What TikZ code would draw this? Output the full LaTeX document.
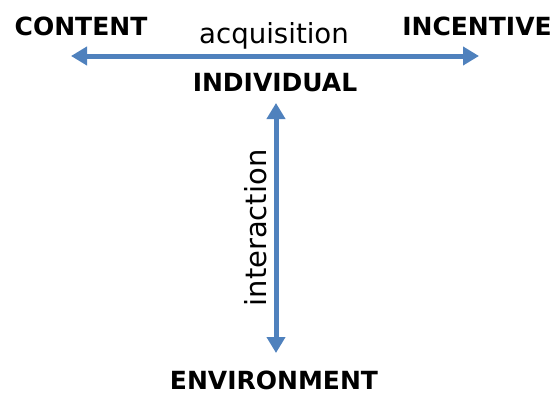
\documentclass[tikz,border=0pt]{standalone}
\usepackage{fontspec}
\setmainfont{DejaVu Sans}
\usetikzlibrary{arrows.meta}
\definecolor{axisblue}{RGB}{79,129,189}

\begin{document}
\begin{tikzpicture}[x=1pt, y=-1pt,
        pole/.style={inner sep=0pt, font=\fontsize{25}{30}\selectfont\bfseries},
        relation/.style={inner sep=0pt, font=\fontsize{27.6}{33}\selectfont},
        axis/.style={axisblue, line width=5pt, {Triangle[length=16pt,width=18pt]}-{Triangle[length=16pt,width=18pt]}}]
    \useasboundingbox (0, 0) rectangle (560, 394);

    \node[pole] (content)     at (81, 26)   {CONTENT};
    \node[pole] (incentive)   at (477, 26)  {INCENTIVE};
    \node[pole] (individual)  at (275, 83)  {INDIVIDUAL};
    \node[pole] (environment) at (274, 380) {ENVIRONMENT};

    \coordinate (left)   at (71, 56);
    \coordinate (right)  at (479, 56);
    \coordinate (top)    at (276, 103);
    \coordinate (bottom) at (276, 353);

    \draw[axis] (left) -- (right);
    \draw[axis] (top) -- (bottom);

    \node[relation, anchor=base] (acquisition) at (274, 43) {acquisition};
    \node[relation, font=\fontsize{29}{34}\selectfont, rotate=90, anchor=base] (interaction) at (266, 228) {interaction};
\end{tikzpicture}
\end{document}
